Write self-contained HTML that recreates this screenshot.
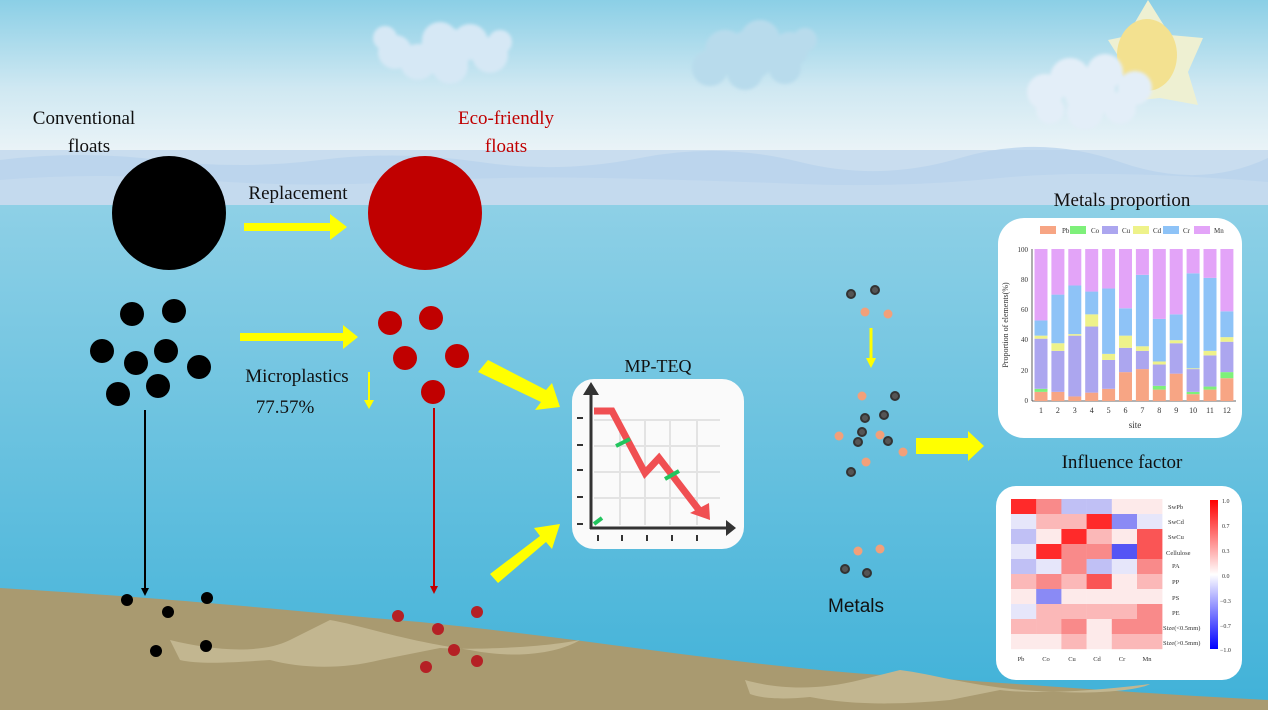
<!DOCTYPE html>
<html><head><meta charset="utf-8"><style>
html,body{margin:0;padding:0;width:1268px;height:717px;overflow:hidden;background:#fff}
svg{display:block}
text{font-family:"Liberation Serif",serif}
</style></head><body>
<svg width="1268" height="717" viewBox="0 0 1268 717" xmlns="http://www.w3.org/2000/svg">
<defs>
<linearGradient id="sky" x1="0" y1="0" x2="0" y2="1">
<stop offset="0" stop-color="#8bcfe6"/><stop offset="0.55" stop-color="#cfe8f2"/><stop offset="1" stop-color="#eef5f8"/>
</linearGradient>
<linearGradient id="sea" x1="0" y1="0" x2="0" y2="1">
<stop offset="0" stop-color="#8ed0e6"/><stop offset="1" stop-color="#3fb1d8"/>
</linearGradient>
<filter id="blur"><feGaussianBlur stdDeviation="1.5"/></filter>
</defs>
<rect width="1268" height="160" fill="url(#sky)"/>
<rect y="150" width="1268" height="60" fill="#c9ddef"/>
<path d="M0,160 Q80,150 160,160 T320,160 T480,162 T640,158 T800,162 T960,158 T1120,162 T1268,158 V210 H0z" fill="#b9d3ec" opacity="0.8"/>
<path d="M0,180 Q100,172 200,180 T400,182 T600,178 T800,184 T1000,178 T1268,182 V210 H0z" fill="#c4daee"/>
<rect y="205" width="1268" height="512" fill="url(#sea)"/>
<!-- clouds -->
<g fill="#d6e8f5" filter="url(#blur)">
<circle cx="440" cy="40" r="18"/><circle cx="470" cy="42" r="18"/><circle cx="395" cy="52" r="17"/><circle cx="418" cy="62" r="18"/><circle cx="450" cy="66" r="18"/><circle cx="490" cy="55" r="18"/><circle cx="500" cy="42" r="12"/><circle cx="385" cy="38" r="12"/><circle cx="445" cy="52" r="25"/>
</g>
<g fill="#b8dbec" filter="url(#blur)">
<circle cx="725" cy="50" r="20"/><circle cx="760" cy="40" r="20"/><circle cx="790" cy="50" r="18"/><circle cx="710" cy="68" r="18"/><circle cx="745" cy="72" r="18"/><circle cx="785" cy="68" r="16"/><circle cx="750" cy="55" r="25"/><circle cx="805" cy="40" r="12"/>
</g>
<polygon points="1148,0 1170,35 1203,38 1188,72 1198,105 1160,98 1122,102 1127,70 1108,40 1127,36" fill="#eef0d2"/>
<ellipse cx="1147" cy="55" rx="30" ry="36" fill="#f3e190"/>
<g fill="#e3eef8" filter="url(#blur)">
<circle cx="1045" cy="92" r="18"/><circle cx="1070" cy="78" r="20"/><circle cx="1105" cy="72" r="18"/><circle cx="1135" cy="88" r="17"/><circle cx="1050" cy="110" r="14"/><circle cx="1085" cy="112" r="18"/><circle cx="1120" cy="108" r="16"/><circle cx="1090" cy="92" r="25"/>
</g>
<!-- seabed -->
<path d="M0,588 C200,600 300,612 420,622 C600,640 750,668 900,676 C1050,686 1150,694 1268,700 V717 H0z" fill="#a99a70"/>
<g fill="#c2b690">
<path d="M170,640 C210,650 260,655 290,640 L330,620 C360,625 400,640 470,650 C520,660 560,652 580,640 C540,648 470,650 440,648 L380,660 C340,670 300,668 270,660 C240,662 200,665 180,660z"/>
<path d="M745,680 C780,690 820,690 860,680 L900,670 C940,675 980,690 1060,692 C1100,694 1140,690 1150,684 C1100,690 1040,695 1000,690 L950,700 C900,705 850,705 810,697 C780,700 760,698 750,694z"/>
</g>
<rect y="710" width="1268" height="7" fill="#fff"/>
<!-- labels -->
<text x="84" y="124" font-size="19" text-anchor="middle" fill="#111">Conventional</text>
<text x="89" y="152" font-size="19" text-anchor="middle" fill="#111">floats</text>
<text x="506" y="124" font-size="19" text-anchor="middle" fill="#c00000">Eco-friendly</text>
<text x="506" y="152" font-size="19" text-anchor="middle" fill="#c00000">floats</text>
<text x="298" y="199" font-size="19" text-anchor="middle" fill="#111">Replacement</text>
<circle cx="169" cy="213" r="57" fill="#000"/>
<circle cx="425" cy="213" r="57" fill="#c00000"/>
<polygon points="244,223 330,223 330,214 347,227 330,240 330,231 244,231" fill="#ffff00"/>
<polygon points="240,333 343,333 343,325 358,337 343,349 343,341 240,341" fill="#ffff00"/>
<text x="297" y="382" font-size="19" text-anchor="middle" fill="#111">Microplastics</text>
<text x="285" y="413" font-size="19" text-anchor="middle" fill="#111">77.57%</text>
<line x1="369" y1="372" x2="369" y2="402" stroke="#ffff00" stroke-width="2"/>
<polygon points="364,400 374,400 369,409" fill="#ffff00"/>
<g fill="#000">
<circle cx="132" cy="314" r="12"/><circle cx="174" cy="311" r="12"/><circle cx="102" cy="351" r="12"/><circle cx="136" cy="363" r="12"/><circle cx="166" cy="351" r="12"/><circle cx="199" cy="367" r="12"/><circle cx="118" cy="394" r="12"/><circle cx="158" cy="386" r="12"/>
</g>
<g fill="#c00000">
<circle cx="390" cy="323" r="12"/><circle cx="431" cy="318" r="12"/><circle cx="405" cy="358" r="12"/><circle cx="457" cy="356" r="12"/><circle cx="433" cy="392" r="12"/>
</g>
<line x1="145" y1="410" x2="145" y2="590" stroke="#000" stroke-width="2"/>
<polygon points="141,588 149,588 145,596" fill="#000"/>
<line x1="434" y1="408" x2="434" y2="588" stroke="#c00000" stroke-width="2"/>
<polygon points="430,586 438,586 434,594" fill="#c00000"/>
<g fill="#000"><circle cx="127" cy="600" r="6"/><circle cx="207" cy="598" r="6"/><circle cx="168" cy="612" r="6"/><circle cx="206" cy="646" r="6"/><circle cx="156" cy="651" r="6"/></g>
<g fill="#b52025"><circle cx="398" cy="616" r="6"/><circle cx="477" cy="612" r="6"/><circle cx="438" cy="629" r="6"/><circle cx="454" cy="650" r="6"/><circle cx="477" cy="661" r="6"/><circle cx="426" cy="667" r="6"/></g>
<!-- big yellow arrows -->
<polygon points="478,372 488,360 546,390 552,383 560,407 535,410 541,402 478,372" fill="#ffff00"/>
<polygon points="490,574 540,536 534,528 560,524 552,549 546,542 498,583" fill="#ffff00"/>
<!-- MP-TEQ -->
<text x="658" y="372" font-size="18" text-anchor="middle" fill="#111">MP-TEQ</text>
<rect x="572" y="379" width="172" height="170" rx="22" fill="#fafafa"/>
<g stroke="#e3e3e3" stroke-width="2">
<line x1="620" y1="420" x2="620" y2="525"/><line x1="645" y1="420" x2="645" y2="525"/><line x1="670" y1="420" x2="670" y2="525"/><line x1="697" y1="420" x2="697" y2="525"/>
<line x1="594" y1="420" x2="720" y2="420"/><line x1="594" y1="446" x2="720" y2="446"/><line x1="594" y1="472" x2="720" y2="472"/><line x1="594" y1="498" x2="720" y2="498"/>
</g>
<g stroke="#333" stroke-width="3"><line x1="591" y1="388" x2="591" y2="529"/><line x1="590" y1="528" x2="733" y2="528"/></g>
<polygon points="583,395 591,382 599,395" fill="#333"/><polygon points="726,520 736,528 726,536" fill="#333"/>
<g stroke="#333" stroke-width="2"><line x1="577" y1="418" x2="583" y2="418"/><line x1="577" y1="445" x2="583" y2="445"/><line x1="577" y1="470" x2="583" y2="470"/><line x1="577" y1="497" x2="583" y2="497"/><line x1="577" y1="524" x2="583" y2="524"/>
<line x1="598" y1="535" x2="598" y2="541"/><line x1="622" y1="535" x2="622" y2="541"/><line x1="647" y1="535" x2="647" y2="541"/><line x1="672" y1="535" x2="672" y2="541"/><line x1="697" y1="535" x2="697" y2="541"/></g>
<polyline points="594,411 612,411 645,473 659,458 699,510" fill="none" stroke="#f04f52" stroke-width="7"/>
<polygon points="690,513 709,503 710,520" fill="#f04f52"/>
<g stroke="#22c55e" stroke-width="4"><line x1="616" y1="446" x2="630" y2="439"/><line x1="665" y1="479" x2="679" y2="471"/><line x1="594" y1="524" x2="602" y2="518"/></g>
<!-- metals particles -->
<g fill="#555" stroke="#333" stroke-width="2">
<circle cx="851" cy="294" r="4"/><circle cx="875" cy="290" r="4"/><circle cx="895" cy="396" r="4"/><circle cx="865" cy="418" r="4"/><circle cx="884" cy="415" r="4"/><circle cx="862" cy="432" r="4"/><circle cx="858" cy="442" r="4"/><circle cx="888" cy="441" r="4"/><circle cx="851" cy="472" r="4"/><circle cx="845" cy="569" r="4"/><circle cx="867" cy="573" r="4"/>
</g>
<g fill="#f2a07a">
<circle cx="865" cy="312" r="4.5"/><circle cx="888" cy="314" r="4.5"/><circle cx="862" cy="396" r="4.5"/><circle cx="839" cy="436" r="4.5"/><circle cx="880" cy="435" r="4.5"/><circle cx="903" cy="452" r="4.5"/><circle cx="866" cy="462" r="4.5"/><circle cx="858" cy="551" r="4.5"/><circle cx="880" cy="549" r="4.5"/>
</g>
<line x1="871" y1="328" x2="871" y2="360" stroke="#ffff00" stroke-width="3"/>
<polygon points="866,358 876,358 871,368" fill="#ffff00"/>
<polygon points="916,438 968,438 968,431 984,446 968,461 968,454 916,454" fill="#ffff00"/>
<text x="856" y="612" font-size="19" text-anchor="middle" fill="#111" style="font-family:'Liberation Sans',sans-serif">Metals</text>
<!-- Metals proportion -->
<text x="1122" y="206" font-size="19" text-anchor="middle" fill="#111">Metals proportion</text>
<rect x="998" y="218" width="244" height="220" rx="26" fill="#fff"/>
<g font-size="7" fill="#333">
<rect x="1040" y="226" width="16" height="8" fill="#f7a584"/><text x="1062" y="233">Pb</text>
<rect x="1070" y="226" width="16" height="8" fill="#7ef07a"/><text x="1091" y="233">Co</text>
<rect x="1102" y="226" width="16" height="8" fill="#aca6ef"/><text x="1122" y="233">Cu</text>
<rect x="1133" y="226" width="16" height="8" fill="#eef28a"/><text x="1153" y="233">Cd</text>
<rect x="1163" y="226" width="16" height="8" fill="#8ec3f7"/><text x="1183" y="233">Cr</text>
<rect x="1194" y="226" width="16" height="8" fill="#e3a4f8"/><text x="1214" y="233">Mn</text>
</g>
<g font-size="7" fill="#333" text-anchor="end">
<text x="1028" y="403">0</text><text x="1028" y="373">20</text><text x="1028" y="342">40</text><text x="1028" y="312">60</text><text x="1028" y="282">80</text><text x="1028" y="252">100</text>
</g>
<text transform="translate(1008,325) rotate(-90)" font-size="8" text-anchor="middle" fill="#333">Proportion of elements(%)</text>
<line x1="1032" y1="249" x2="1032" y2="401" stroke="#333" stroke-width="0.8"/>
<line x1="1032" y1="401" x2="1236" y2="401" stroke="#333" stroke-width="0.8"/>
<g transform="translate(0,401) scale(1,-1.52)" id="bars"></g>
<g font-size="8" fill="#333" text-anchor="middle" id="xl"></g>
<text x="1135" y="428" font-size="9" text-anchor="middle" fill="#333">site</text>
<!-- Influence factor -->
<text x="1122" y="468" font-size="19" text-anchor="middle" fill="#111">Influence factor</text>
<rect x="996" y="486" width="246" height="194" rx="20" fill="#fff"/>
<g id="heat"></g>
<g font-size="6.5" fill="#333">
<text x="1168" y="509">SwPb</text><text x="1168" y="524">SwCd</text><text x="1168" y="539">SwCu</text><text x="1166" y="555">Cellulose</text><text x="1172" y="568">PA</text><text x="1172" y="584">PP</text><text x="1172" y="600">PS</text><text x="1172" y="615">PE</text><text x="1163" y="630">Size(&lt;0.5mm)</text><text x="1163" y="645">Size(&gt;0.5mm)</text>
</g>
<g font-size="6.5" fill="#333" text-anchor="middle">
<text x="1021" y="661">Pb</text><text x="1046" y="661">Co</text><text x="1072" y="661">Cu</text><text x="1097" y="661">Cd</text><text x="1122" y="661">Cr</text><text x="1147" y="661">Mn</text>
</g>
<defs><linearGradient id="cb" x1="0" y1="0" x2="0" y2="1"><stop offset="0" stop-color="#ff0000"/><stop offset="0.5" stop-color="#ffffff"/><stop offset="1" stop-color="#0000ff"/></linearGradient></defs>
<rect x="1210" y="500" width="8" height="149" fill="url(#cb)"/>
<g font-size="6" fill="#333"><text x="1222" y="503">1.0</text><text x="1222" y="528">0.7</text><text x="1222" y="553">0.3</text><text x="1222" y="578">0.0</text><text x="1220" y="603">−0.3</text><text x="1220" y="628">−0.7</text><text x="1220" y="652">−1.0</text></g>
<script>
(function(){
var ns="http://www.w3.org/2000/svg";
var cols=["#f7a584","#7ef07a","#aca6ef","#eef28a","#8ec3f7","#e3a4f8"];
var d=[[6,8,41,43,53],[6,6,33,38,70],[3,3,43,44,76],[5.5,5.5,49,57,72],[8,8,27,31,74],[19,19,35,43,61],[21,21,33,36,83],[7.5,10,24,26,54],[18,18,38,40,57],[4.5,6,21,21.5,84],[7.5,9.5,30,33,81],[15,19,39,42,59]];
var g=document.getElementById("bars"),xl=document.getElementById("xl");
d.forEach(function(r,i){var c=[0].concat(r).concat([100]);var cx=1041+i*16.9;
for(var k=0;k<6;k++){var h=c[k+1]-c[k];if(h<=0)continue;var e=document.createElementNS(ns,"rect");e.setAttribute("x",cx-6.5);e.setAttribute("width",13);e.setAttribute("y",c[k]);e.setAttribute("height",h);e.setAttribute("fill",cols[k]);g.appendChild(e);}
var t=document.createElementNS(ns,"text");t.setAttribute("x",cx);t.setAttribute("y",413);t.textContent=(i+1);xl.appendChild(t);});
var C={D:"#ff2a2a",R:"#fa5555",L:"#f98a8a",P:"#fbb8b8",W:"#fdeaea",B:"#c0c0f5",V:"#e6e6fa",M:"#8a8af5",X:"#5555f5"};
var h=["DLBBWW","VPPDMV","BWDPWR","VDLLXR","BVLBVL","PLPRWP","WMWWWW","VPPPPL","PPLWLL","WWPWPP"];
var hg=document.getElementById("heat");
h.forEach(function(r,i){for(var j=0;j<6;j++){var e=document.createElementNS(ns,"rect");e.setAttribute("x",1011+j*25.2);e.setAttribute("y",499+i*15);e.setAttribute("width",25.4);e.setAttribute("height",15.2);e.setAttribute("fill",C[r[j]]);hg.appendChild(e);}});
})();
</script>
</svg>
</body></html>
